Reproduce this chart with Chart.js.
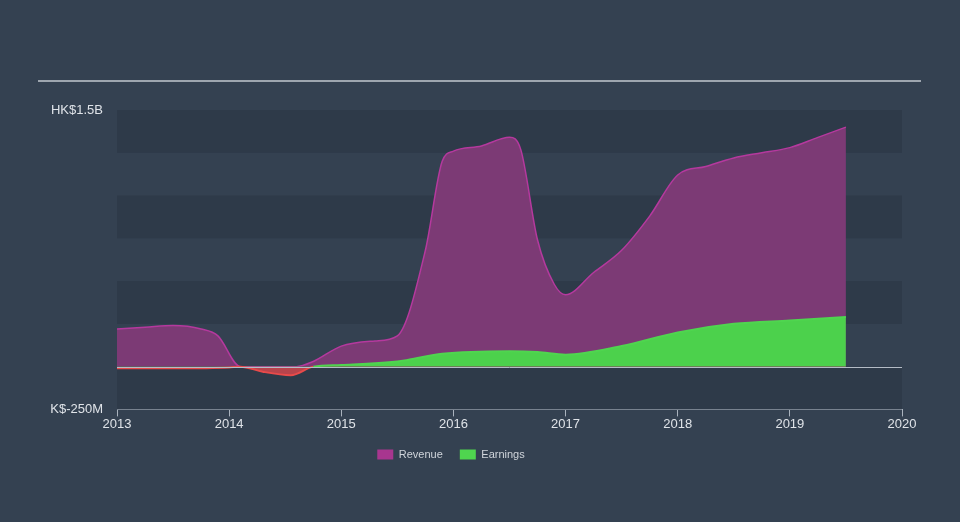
<!DOCTYPE html>
<html>
<head>
<meta charset="utf-8">
<script src="https://cdn.jsdelivr.net/npm/chart.js@4/dist/chart.umd.min.js"></script>
<style>
  html, body { margin: 0; padding: 0; background: #344151; }
  #wrap { width: 960px; height: 522px; position: relative; }
</style>
</head>
<body>
<div id="wrap"><canvas id="chart" width="960" height="522"></canvas></div>
<script>
// values in HK$ billions
const revYears = [2013, 2013.25, 2013.5, 2013.75, 2013.9, 2014.1, 2014.3, 2014.6, 2014.75, 2015, 2015.3, 2015.5, 2015.75, 2015.9, 2016, 2016.25, 2016.5, 2016.6, 2016.75, 2016.9, 2017, 2017.25, 2017.5, 2017.75, 2018, 2018.25, 2018.5, 2018.75, 2019, 2019.25, 2019.5];
const revenue = [0.22, 0.23, 0.24, 0.22, 0.18, 0.0, 0.0, 0.0, 0.03, 0.12, 0.15, 0.18, 0.68, 1.2, 1.26, 1.29, 1.34, 1.27, 0.74, 0.48, 0.42, 0.55, 0.68, 0.88, 1.12, 1.17, 1.22, 1.25, 1.28, 1.34, 1.40];
const earnYears = [2013, 2013.5, 2014, 2014.1, 2014.3, 2014.55, 2014.75, 2015, 2015.5, 2015.6, 2015.9, 2016.5, 2016.75, 2017, 2017.5, 2018, 2018.5, 2019, 2019.5];
const earnings = [-0.01, -0.01, -0.005, 0.0, -0.03, -0.05, 0.0, 0.01, 0.03, 0.04, 0.075, 0.09, 0.085, 0.07, 0.12, 0.2, 0.25, 0.27, 0.29];
const yLabels = { '1.5': 'HK$1.5B', '-0.25': 'K$-250M' };

const toPts = (xs, ys) => xs.map((x, i) => ({ x: x, y: ys[i] }));

const bandsPlugin = {
  id: 'bands',
  beforeDatasetsDraw(chart) {
    const { ctx, chartArea: a, scales: { y } } = chart;
    ctx.save();
    // alternating bands every 250M
    for (let v = 1.5; v > -0.25; v -= 0.5) {
      const t = y.getPixelForValue(v), b = y.getPixelForValue(v - 0.25);
      ctx.fillStyle = '#2e3a49';
      ctx.fillRect(a.left, t, a.right - a.left, b - t);
    }
    ctx.restore();
  },
  afterDatasetsDraw(chart) {
    const { ctx, chartArea: a, scales: { y } } = chart;
    const z = Math.round(y.getPixelForValue(0)) + 0.5;
    ctx.save();
    ctx.strokeStyle = '#b4bcc6';
    ctx.lineWidth = 1;
    ctx.beginPath();
    ctx.moveTo(a.left, z);
    ctx.lineTo(a.right, z);
    ctx.stroke();
    ctx.restore();
  },
  afterDraw(chart) {
    const ctx = chart.ctx;
    ctx.save();
    ctx.strokeStyle = '#c2c8cf';
    ctx.lineWidth = 1.5;
    ctx.beginPath();
    ctx.moveTo(38, 81);
    ctx.lineTo(921, 81);
    ctx.stroke();
    ctx.restore();
  }
};

const red = '#e84a4a';
const green = '#4fd54f';

new Chart(document.getElementById('chart'), {
  type: 'line',
  data: {
    datasets: [{
      label: 'Revenue',
      data: toPts(revYears, revenue),
      borderColor: '#b5399e',
      backgroundColor: '#7c3a75',
      borderWidth: 1.5,
      pointRadius: 0,
      fill: 'origin',
      cubicInterpolationMode: 'monotone',
      order: 2
    }, {
      label: 'Earnings',
      data: toPts(earnYears, earnings),
      borderColor: green,
      backgroundColor: green,
      borderWidth: 2,
      pointRadius: 0,
      fill: { target: 'origin', above: '#4cd14c', below: '#b8444c' },
      cubicInterpolationMode: 'monotone',
      segment: {
        borderColor: c => (c.p0.parsed.y < 0 || c.p1.parsed.y < 0) ? red : green
      },
      order: 1
    }]
  },
  options: {
    responsive: false,
    animation: false,
    layout: { padding: { top: 110, right: 58, left: 0, bottom: 52 } },
    plugins: {
      tooltip: { enabled: false },
      legend: {
        position: 'bottom',
        labels: {
          color: '#d0d5db',
          font: { family: 'Liberation Sans', size: 11 },
          boxWidth: 16,
          boxHeight: 10,
          padding: 17,
          generateLabels: chart => chart.data.datasets.map((d, i) => ({
            text: d.label,
            fillStyle: i === 0 ? '#a8368f' : green,
            strokeStyle: 'transparent',
            lineWidth: 0,
            fontColor: '#d0d5db',
            datasetIndex: i
          }))
        }
      }
    },
    scales: {
      x: {
        type: 'linear',
        min: 2013,
        max: 2020,
        ticks: {
          stepSize: 1,
          color: '#dfe3e8',
          font: { family: 'Liberation Sans', size: 13 },
          padding: 0,
          callback: v => String(v)
        },
        grid: { drawOnChartArea: false, color: '#aab3be', tickLength: 7 },
        border: { color: '#aab3be' }
      },
      y: {
        min: -0.25,
        max: 1.5,
        afterFit: s => { s.width = 117; },
        afterBuildTicks: s => { s.ticks = [{ value: -0.25 }, { value: 1.5 }]; },
        ticks: {
          color: '#dfe3e8',
          font: { family: 'Liberation Sans', size: 13 },
          padding: 6,
          callback: v => yLabels[String(v)] || ''
        },
        grid: { display: false },
        border: { display: false }
      }
    }
  },
  plugins: [bandsPlugin]
});
</script>
</body>
</html>
